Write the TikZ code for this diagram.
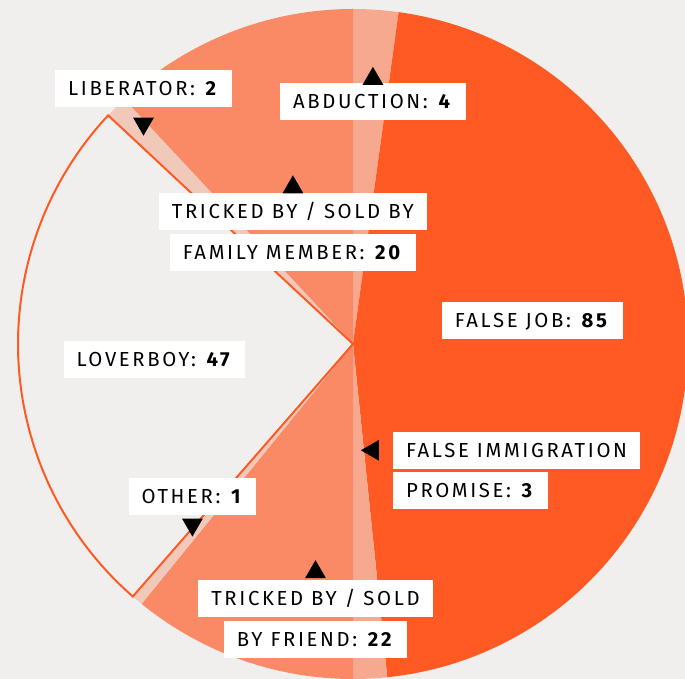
\documentclass[tikz,border=0pt]{standalone}
\usepackage{fontspec}
\setmainfont{Fira Sans}[LetterSpace=13]
\usetikzlibrary{positioning,shapes.geometric}
\definecolor{bgcol}{RGB}{240,239,237}
\definecolor{jobcol}{RGB}{255,90,35}
\definecolor{salmon}{RGB}{249,138,101}
\definecolor{abdcol}{RGB}{247,169,144}
\definecolor{palecol}{RGB}{240,201,187}

\begin{document}
\begin{tikzpicture}[
                x=1pt,y=1pt,
                lab/.style={fill=white,inner xsep=13pt,inner ysep=11.5pt,text height=14pt,text depth=0pt,
                            font=\fontsize{20.3}{20.3}\selectfont},
                tri/.style={fill=black,regular polygon,regular polygon sides=3,minimum size=24pt,
                            inner sep=0pt,outer sep=0pt}
            ]
                \useasboundingbox[fill=bgcol] (0,0) rectangle (685,679);
                \coordinate (c) at (353,335);

                % slices, clockwise from the top
                \fill[abdcol]  (c) -- ++(90:335)      arc[start angle=90,      end angle=82.17,   radius=335] -- cycle;
                \fill[jobcol]  (c) -- ++(82.17:335)   arc[start angle=82.17,   end angle=-84.13,  radius=335] -- cycle;
                \fill[abdcol]  (c) -- ++(-84.13:335)  arc[start angle=-84.13,  end angle=-90,     radius=335] -- cycle;
                \fill[salmon]  (c) -- ++(-90:335)     arc[start angle=-90,     end angle=-129.13, radius=335] -- cycle;
                \fill[palecol] (c) -- ++(-129.13:335) arc[start angle=-129.13, end angle=-131.09, radius=335] -- cycle;
                \fill[palecol] (c) -- ++(-223.04:335) arc[start angle=-223.04, end angle=-226.96, radius=335] -- cycle;
                \fill[salmon]  (c) -- ++(-226.96:335) arc[start angle=-226.96, end angle=-270,    radius=335] -- cycle;
                \filldraw[fill=bgcol,draw=jobcol,line width=2pt]
                               (c) -- ++(-131.09:335) arc[start angle=-131.09, end angle=-223.04, radius=335] -- cycle;

                % labels
                \node[lab] (lib)   at (143.5,590) {LIBERATOR: \textbf{2}};
                \node[lab] (abd)   at (372.9,577) {ABDUCTION: \textbf{4}};
                \node[lab] (fam)   at (292.9,467) {TRICKED BY / SOLD BY};
                \node[lab,below=3pt of fam] (fam2) {FAMILY MEMBER: \textbf{20}};
                \node[lab] (job)   at (532.2,358.6) {FALSE JOB: \textbf{85}};
                \node[lab] (lover) at (154.5,319.3) {LOVERBOY: \textbf{47}};
                \node[lab,anchor=west] (imm) at (392.9,228.7) {FALSE IMMIGRATION};
                \node[lab,below right=3pt and 0pt of imm.south west] (imm2) {PROMISE: \textbf{3}};
                \node[lab] (other) at (192.4,182.6) {OTHER: \textbf{1}};
                \node[lab] (fri)   at (315.5,80.7) {TRICKED BY / SOLD};
                \node[lab,below=4pt of fri] (fri2) {BY FRIEND: \textbf{22}};

                % pointers
                \node[tri,shape border rotate=180,below=10pt of lib] (libtip) {};
                \node[tri,above=-1.5pt of abd] (abdtip) {};
                \node[tri,above=0pt of fam] (famtip) {};
                \node[tri,shape border rotate=90,left=14pt of imm] (immtip) {};
                \node[tri,shape border rotate=180,below=3.5pt of other] (othertip) {};
                \node[tri,above=1.5pt of fri] (fritip) {};
            \end{tikzpicture}
\end{document}
